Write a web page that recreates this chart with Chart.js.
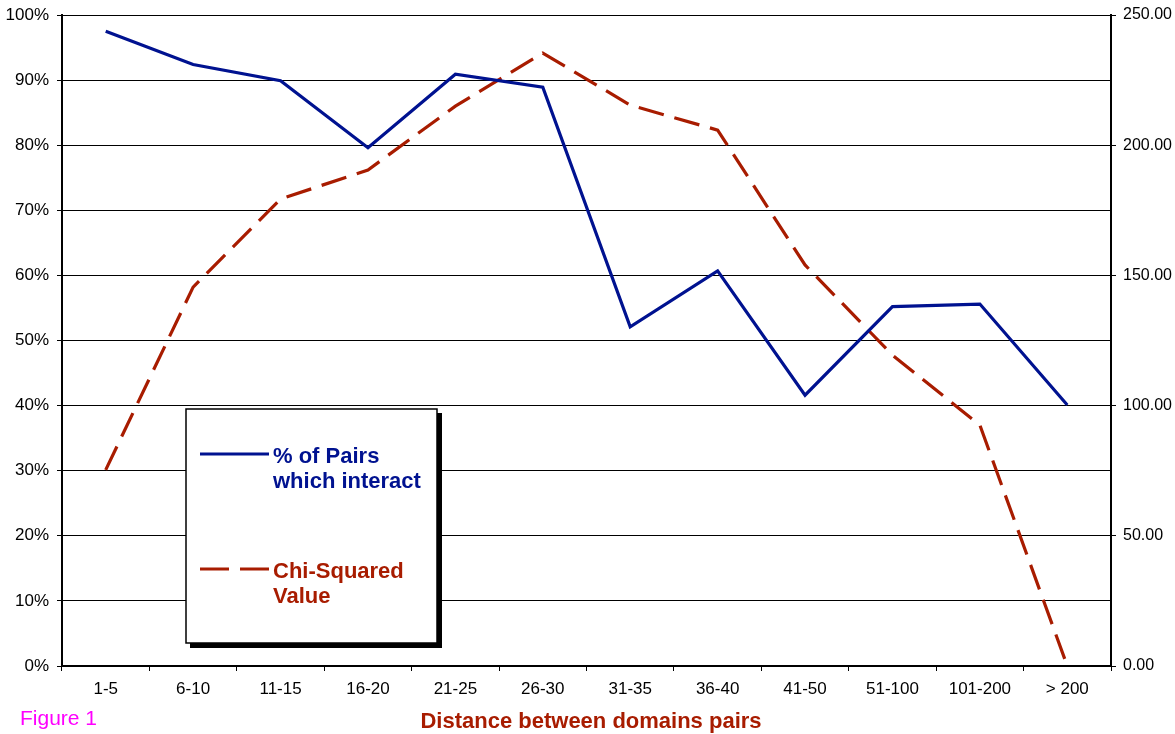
<!DOCTYPE html>
<html><head><meta charset="utf-8">
<script src="https://cdn.jsdelivr.net/npm/chart.js@4/dist/chart.umd.min.js"></script>
<style>html,body{margin:0;padding:0;background:#fff}#wrap{width:1175px;height:734px;position:relative}</style>
</head><body><div id="wrap"><canvas id="c" width="1175" height="734"></canvas></div>
<script>
const categories = ['1-5','6-10','11-15','16-20','21-25','26-30','31-35','36-40','41-50','51-100','101-200','> 200'];
const pctPairs = [97.5, 92.4, 89.9, 79.6, 90.9, 88.9, 52.1, 60.7, 41.6, 55.2, 55.6, 40.1];
const chiSquared = [75.3, 145.5, 179.3, 190.5, 215.0, 235.4, 215.4, 205.8, 154.0, 119.4, 92.5, 0.0];
const leftTicks = [0,10,20,30,40,50,60,70,80,90,100];
const rightTicks = [0,50,100,150,200,250];

const BLUE = '#001290';
const RED = '#A81C00';
const FONT = "'Liberation Sans', Arial, sans-serif";

const deco = {
  id: 'deco',
  afterDraw(chart) {
    const ctx = chart.ctx;
    ctx.save();
    // legend box
    ctx.fillStyle = '#000';
    ctx.fillRect(190, 413, 252, 235);
    ctx.fillStyle = '#fff';
    ctx.fillRect(186, 409, 251, 234);
    ctx.strokeStyle = '#000';
    ctx.lineWidth = 1.5;
    ctx.strokeRect(186, 409, 251, 234);
    ctx.lineWidth = 3;
    ctx.strokeStyle = BLUE;
    ctx.beginPath(); ctx.moveTo(200, 454); ctx.lineTo(269, 454); ctx.stroke();
    ctx.strokeStyle = RED;
    ctx.beginPath(); ctx.moveTo(200, 569); ctx.lineTo(229, 569); ctx.moveTo(240, 569); ctx.lineTo(269, 569); ctx.stroke();
    ctx.font = 'bold 22px ' + FONT;
    ctx.textAlign = 'left';
    ctx.textBaseline = 'alphabetic';
    ctx.fillStyle = BLUE;
    ctx.fillText('% of Pairs', 273, 463);
    ctx.fillText('which interact', 273, 488);
    ctx.fillStyle = RED;
    ctx.fillText('Chi-Squared', 273, 578);
    ctx.fillText('Value', 273, 603);
    // axis title
    ctx.textAlign = 'center';
    ctx.font = 'bold 22px ' + FONT;
    ctx.fillText('Distance between domains pairs', 591, 728);
    // figure label
    ctx.textAlign = 'left';
    ctx.fillStyle = '#FF00FF';
    ctx.font = '21px ' + FONT;
    ctx.fillText('Figure 1', 20, 725);
    ctx.restore();
  }
};

new Chart(document.getElementById('c'), {
  type: 'line',
  data: {
    labels: categories,
    datasets: [
      { label: '% of Pairs which interact', data: pctPairs, yAxisID: 'y', borderColor: BLUE, borderWidth: 3.2, pointRadius: 0, tension: 0, fill: false },
      { label: 'Chi-Squared Value', data: chiSquared, yAxisID: 'y2', borderColor: RED, borderWidth: 3.2, borderDash: [26, 11], pointRadius: 0, tension: 0, fill: false }
    ]
  },
  options: {
    responsive: false,
    animation: false,
    devicePixelRatio: 1,
    layout: { padding: { top: 15, left: 0, right: 0, bottom: 0 } },
    plugins: { legend: { display: false }, tooltip: { enabled: false } },
    scales: {
      x: {
        type: 'category',
        offset: true,
        grid: { display: true, offset: true, drawOnChartArea: false, drawTicks: true, tickLength: 5, color: '#000', lineWidth: 1 },
        border: { display: true, color: '#000', width: 2 },
        ticks: { color: '#000', font: { family: FONT, size: 17 }, padding: 8, maxRotation: 0, autoSkip: false },
        afterFit(s) { s.height = 68; s.paddingLeft = 0; s.paddingRight = 0; }
      },
      y: {
        position: 'left', min: 0, max: 100,
        afterBuildTicks(s) { s.ticks = leftTicks.map(v => ({ value: v })); },
        grid: { color: '#000', lineWidth: 1, tickLength: 5 },
        border: { display: true, color: '#000', width: 2 },
        ticks: { color: '#000', font: { family: FONT, size: 17 }, padding: 8, callback: v => v + '%' },
        afterFit(s) { s.width = 62; s.paddingTop = 0; s.paddingBottom = 0; }
      },
      y2: {
        position: 'right', min: 0, max: 250,
        afterBuildTicks(s) { s.ticks = rightTicks.map(v => ({ value: v })); },
        grid: { drawOnChartArea: false, color: '#000', tickLength: 5 },
        border: { display: true, color: '#000', width: 2 },
        ticks: { color: '#000', font: { family: FONT, size: 16 }, padding: 7, callback: v => Number(v).toFixed(2) },
        afterFit(s) { s.width = 64; s.paddingTop = 0; s.paddingBottom = 0; }
      }
    }
  },
  plugins: [deco]
});
</script>
</body></html>
